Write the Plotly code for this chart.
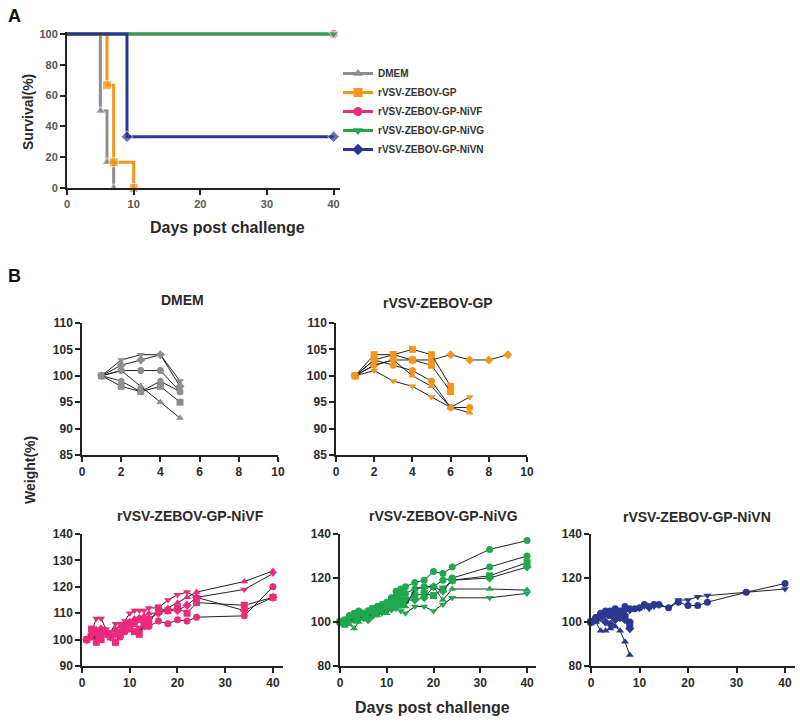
import plotly.graph_objects as go

W, H = 800, 722
def px(x): return x / W
def py(y): return 1 - y / H

FONT = "Liberation Sans, Arial, sans-serif"
TXT = "#2a2a2a"

# ---------------- Panel A: survival ----------------
groups = ["DMEM", "rVSV-ZEBOV-GP", "rVSV-ZEBOV-GP-NiVF", "rVSV-ZEBOV-GP-NiVG", "rVSV-ZEBOV-GP-NiVN"]
colors = ["#8e8e8e", "#f7941d", "#ec2a7c", "#1fa84f", "#2b3892"]
symbols = ["triangle-up", "square", "circle", "triangle-down", "diamond"]

surv_days_dmem = [0, 5, 6, 7]
surv_dmem = [100, 50, 16.7, 0]
surv_days_gp = [0, 6, 7, 10]
surv_gp = [100, 66.7, 16.7, 0]
surv_days_nivf = [0, 40]
surv_nivf = [100, 100]
surv_days_nivg = [0, 40]
surv_nivg = [100, 100]
surv_days_nivn = [0, 9, 40]
surv_nivn = [100, 33.3, 33.3]

surv_x = [surv_days_dmem, surv_days_gp, surv_days_nivf, surv_days_nivg, surv_days_nivn]
surv_y = [surv_dmem, surv_gp, surv_nivf, surv_nivg, surv_nivn]

# ---------------- Panel B: weights ----------------
dmem_days = [1, 2, 3, 4, 5]
dmem_w = {
    "circle": [100, 101, 101, 101, 97],
    "square": [100, 98, 97, 98, 95],
    "triangle-up": [100, 101, 98, 95, 92],
    "triangle-down": [100, 103, 104, 104, 99],
    "diamond": [100, 102, 103, 104, 98],
    "hexagon": [100, 99, 97, 99, 97],
}

gp_days = [1, 2, 3, 4, 5, 6, 7, 8, 9]
gp_w = [
    ("diamond", [100, 102, 103, 103, 103, 104, 103, 103, 104]),
    ("square", [100, 104, 104, 105, 104, 98]),
    ("square", [100, 103, 104, 103, 102, 97]),
    ("circle", [100, 103, 102, 101, 99, 94, 94]),
    ("triangle-up", [100, 102, 103, 100, 98, 94, 93]),
    ("triangle-down", [100, 101, 99, 98, 96, 94, 96]),
]

nivf_days = [1, 2, 3, 4, 5, 6, 7, 8, 9, 10, 11, 12, 13, 14, 16, 18, 20, 22, 24, 34, 40]
nivf_w = [
    ("triangle-up", [100, 102, 104, 103, 102, 101, 104, 105, 106, 107, 108, 107, 109, 110, 110, 112, 114, 116, 118, 122, 126]),
    ("triangle-down", [100, 103, 108, 108, 104, 103, 106, 106, 107, 110, 111, 111, 111, 112, 112, 115, 117, 118, 116, 119, 125]),
    ("circle", [100, 101, 101, 102, 103, 101, 99, 101, 103, 104, 106, 104, 105, 105, 107, 106, 107.5, 107, 108.5, 109, 120]),
    ("square", [100, 104, 99, 100, 102, 101, 99, 102, 104, 105, 103, 102, 106, 106, 112, 111, 112, 110, 114, 113, 116]),
    ("diamond", [100, 102, 103, 104, 103, 101, 102, 103, 105, 106, 107, 108, 107, 108, 110, 111, 111, 113, 116, 111, 116]),
]

nivg_days = [0, 1, 2, 3, 4, 5, 6, 7, 8, 9, 10, 11, 12, 13, 14, 16, 18, 20, 22, 24, 32, 40]
nivg_w = [
    ("circle", [100, 100, 102, 103, 104, 104, 105, 106, 107, 108, 109, 111, 114, 115, 116, 118, 119, 123, 122, 125, 133, 137]),
    ("circle", [100, 101, 103, 104, 105, 103, 105, 104, 107, 106, 108, 110, 112, 113, 113, 115, 116, 116, 119, 120, 125, 130]),
    ("square", [100, 99, 101, 102, 104, 103, 104, 106, 105, 107, 107, 108, 109, 110, 110, 112, 113, 112, 115, 119, 121, 127]),
    ("diamond", [100, 100, 102, 101, 103, 102, 101, 103, 104, 106, 107, 106, 108, 108, 110, 110, 111, 116, 114, 119, 120, 125]),
    ("triangle-up", [100, 100, 99, 97, 100, 102, 103, 104, 103, 105, 104, 106, 107, 107, 107, 115, 116, 116, 110, 115, 115, 114.5]),
    ("triangle-down", [100, 101, 100, 102, 101, 103, 102, 104, 105, 104, 106, 107, 106, 105, 104, 107, 107, 105, 108, 111, 111, 113]),
]

nivn_days = [0, 1, 2, 3, 4, 5, 6, 7, 8, 9, 10, 11, 12, 13, 14, 16, 18, 20, 22, 24, 32, 40]
nivn_w = [
    ("circle", [100, 102, 103, 104, 105, 105, 105, 107, 106, 106, 106.5, 108, 107, 108, 108, 106.5, 109, 107.5, 107.5, 109, 113.5, 117.5]),
    ("triangle-down", [100, 101, 102, 103, 103, 104, 104, 105, 105, 106, 106, 107, 106, 107, 107.5, 106.5, 110, 110, 111.5, 112, 113.5, 115]),
    ("triangle-up", [100, 100, 96, 96, 97, 98, 96, 91, 85]),
    ("diamond", [100, 101, 102, 100, 99, 101, 102, 101, 97]),
    ("square", [100, 101, 103, 104, 103, 104, 103, 102, 99]),
    ("circle", [100, 102, 104, 105, 104, 106, 104, 103, 100]),
]

fig = go.Figure()

# survival step curves
for i, g in enumerate(groups):
    xs, ys = surv_x[i], surv_y[i]
    sizes = [0] + [9] * (len(xs) - 1)
    fig.add_trace(go.Scatter(
        x=xs, y=ys, mode="lines+markers", line=dict(shape="hv", color=colors[i], width=3),
        marker=dict(symbol=symbols[i], color=colors[i], size=sizes),
        xaxis="x", yaxis="y", showlegend=False, cliponaxis=False, hoverinfo="skip"))
for i, g in enumerate(groups):
    fig.add_trace(go.Scatter(
        x=[None], y=[None], mode="lines+markers", name=g,
        line=dict(color=colors[i], width=3),
        marker=dict(symbol=symbols[i], color=colors[i], size=9),
        xaxis="x", yaxis="y", showlegend=True))

def add_mouse(days, vals, symbol, color, ax, size=7):
    n = len(vals)
    fig.add_trace(go.Scatter(
        x=days[:n], y=vals, mode="lines+markers", xaxis="x" + ax, yaxis="y" + ax,
        line=dict(color="#222222", width=1),
        marker=dict(symbol=symbol, color=color, size=size, line=dict(width=0)),
        showlegend=False, cliponaxis=False, hoverinfo="skip"))

for sym, vals in dmem_w.items():
    add_mouse(dmem_days, vals, sym, colors[0], "2", 7)
for sym, vals in gp_w:
    add_mouse(gp_days, vals, sym, colors[1], "3", 7)
for sym, vals in nivf_w:
    add_mouse(nivf_days, vals, sym, colors[2], "4", 7)
for sym, vals in nivg_w:
    add_mouse(nivg_days, vals, sym, colors[3], "5", 7)
for sym, vals in nivn_w:
    add_mouse(nivn_days, vals, sym, colors[4], "6", 7)

def axis(domain, rng, anchor, tickvals, size=12, color=TXT, lw=1.5):
    return dict(domain=domain, range=rng, anchor=anchor, tickvals=tickvals, automargin=False,
                showline=True, linecolor="#222", linewidth=lw, ticks="outside",
                ticklen=5, tickwidth=lw, tickcolor="#222", showgrid=False, zeroline=False,
                tickfont=dict(family=FONT, size=size, color=color, weight="bold"))

top_y = [py(455), py(323)]
bot_y = [py(666), py(534)]

fig.update_layout(
    width=W, height=H, margin=dict(l=0, r=0, t=0, b=0, autoexpand=False),
    paper_bgcolor="white", plot_bgcolor="white",
    xaxis=axis([px(67), px(340.3)], [0, 41], "y", [0, 10, 20, 30, 40], 11, "#555", 2),
    yaxis=axis([py(188), py(31.7)], [0, 101.5], "x", [0, 20, 40, 60, 80, 100], 11, "#555", 2),
    xaxis2=axis([px(82), px(278)], [0, 10], "y2", [0, 2, 4, 6, 8, 10]),
    yaxis2=axis(top_y, [85, 110], "x2", [85, 90, 95, 100, 105, 110]),
    xaxis3=axis([px(336), px(527)], [0, 10], "y3", [0, 2, 4, 6, 8, 10]),
    yaxis3=axis(top_y, [85, 110], "x3", [85, 90, 95, 100, 105, 110]),
    xaxis4=axis([px(82), px(282.5)], [0, 42], "y4", [0, 10, 20, 30, 40]),
    yaxis4=axis(bot_y, [90, 140], "x4", [90, 100, 110, 120, 130, 140]),
    xaxis5=axis([px(340), px(536.4)], [0, 42], "y5", [0, 10, 20, 30, 40]),
    yaxis5=axis(bot_y, [80, 140], "x5", [80, 100, 120, 140]),
    xaxis6=axis([px(591), px(794.7)], [0, 42], "y6", [0, 10, 20, 30, 40]),
    yaxis6=axis(bot_y, [80, 140], "x6", [80, 100, 120, 140]),
    legend=dict(x=px(338), y=py(59), xanchor="left", yanchor="top",
                font=dict(family=FONT, size=10, color="#333", weight="bold"),
                bgcolor="rgba(0,0,0,0)", tracegroupgap=0, itemwidth=30),
    showlegend=True,
)

def ann(text, x, y, size, angle=0, color=TXT, bold=True):
    fig.add_annotation(text=text, x=px(x), y=py(y), xref="paper", yref="paper",
                       showarrow=False, textangle=angle, xanchor="center", yanchor="middle",
                       font=dict(family=FONT, size=size, color=color, weight="bold" if bold else "normal"))

ann("A", 14, 16, 18, color="#111")
ann("B", 14, 276, 18, color="#111")
ann("Survival(%)", 28, 112, 14, angle=-90)
ann("Days post challenge", 228, 227, 16)
ann("Weight(%)", 30, 470, 14, angle=-90)
ann("Days post challenge", 432, 707, 16)
ann("DMEM", 182, 300, 14)
ann("rVSV-ZEBOV-GP", 438, 303, 14)
ann("rVSV-ZEBOV-GP-NiVF", 190, 516, 14)
ann("rVSV-ZEBOV-GP-NiVG", 443, 516, 14)
ann("rVSV-ZEBOV-GP-NiVN", 697, 517, 14)

fig.write_html("out.html", config={"displayModeBar": False},
               post_script="document.body.style.margin='0';")
